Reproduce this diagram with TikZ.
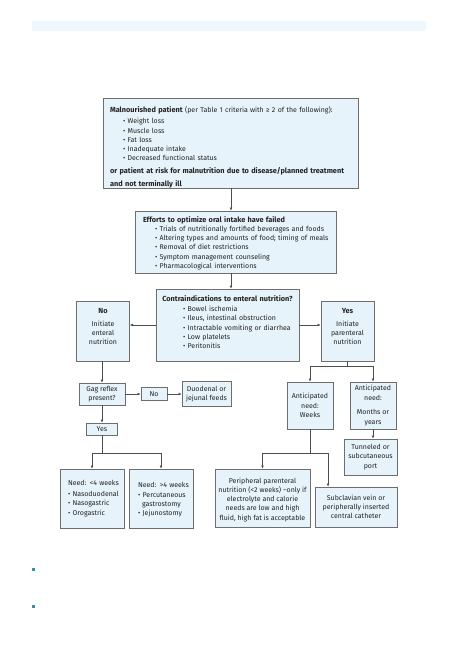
\documentclass[tikz,border=0pt]{standalone}
\usepackage{fontspec}
\setmainfont{Fira Sans}[BoldFeatures={Scale=1.05}]
\usetikzlibrary{arrows.meta}
\definecolor{boxfill}{HTML}{E6F3FA}
\definecolor{boxline}{HTML}{6E6E6E}
\definecolor{lnk}{HTML}{4D4D4D}
\definecolor{stripc}{HTML}{EDF7FD}
\definecolor{mkteal}{HTML}{3A8FA3}
\definecolor{txt}{HTML}{222222}
\begin{document}
\begin{tikzpicture}[x=1pt,y=-1pt,
  box/.style={draw=boxline, fill=boxfill, line width=0.6pt, text=txt,
    font=\fontsize{7}{9.2}\selectfont, inner sep=0pt},
  ln/.style={draw=lnk, line width=0.6pt},
  arr/.style={ln, -{Latex[length=3.2pt,width=2.8pt]}}]
\useasboundingbox (0,0) rectangle (459,650);
\fill[stripc] (32,21) rectangle (426,31);
\fill[mkteal] (32,568) rectangle (35,571);
\fill[mkteal] (32,605) rectangle (35,608);

\node[box, minimum width=255, minimum height=90, text width=241, align=left] (mal) at (230.5,143)
 {\rule{0pt}{14pt}\mbox{\textbf{Malnourished patient} (per Table 1 criteria with ≥ 2 of the following):}\\[2.5pt]
  \mbox{\hspace*{13pt}• Weight loss}\\
  \mbox{\hspace*{13pt}• Muscle loss}\\
  \mbox{\hspace*{13pt}• Fat loss}\\
  \mbox{\hspace*{13pt}• Inadequate intake}\\
  \mbox{\hspace*{13pt}• Decreased functional status}\\[3.5pt]
  \mbox{\textbf{or patient at risk for malnutrition due to disease/planned treatment}}\\[3.5pt]
  \mbox{\textbf{and not terminally ill}}};

\node[box, minimum width=201, minimum height=62, text width=185, align=left] (eff) at (235.5,242)
 {\rule{0pt}{8pt}\mbox{\textbf{Efforts to optimize oral intake have failed}}\\
  \mbox{\hspace*{12pt}• Trials of nutritionally fortified beverages and foods}\\
  \mbox{\hspace*{12pt}• Altering types and amounts of food; timing of meals}\\
  \mbox{\hspace*{12pt}• Removal of diet restrictions}\\
  \mbox{\hspace*{12pt}• Symptom management counseling}\\
  \mbox{\hspace*{12pt}• Pharmacological interventions}};

\node[box, minimum width=143, minimum height=72, text width=137, align=left] (cont) at (227.5,325)
 {\makebox[\linewidth]{\textbf{Contraindications to enteral nutrition?}}\\[1pt]
  \mbox{\hspace*{24pt}• Bowel ischemia}\\
  \mbox{\hspace*{24pt}• Ileus, intestinal obstruction}\\
  \mbox{\hspace*{24pt}• Intractable vomiting or diarrhea}\\
  \mbox{\hspace*{24pt}• Low platelets}\\
  \mbox{\hspace*{24pt}• Peritonitis}\rule[-6pt]{0pt}{6pt}};

\node[box, minimum width=53, minimum height=60, align=center] (no) at (103,331)
 {\textbf{No}\\[4pt]Initiate\\enteral\\nutrition\\\rule{0pt}{8pt}};
\node[box, minimum width=53, minimum height=60, align=center] (yes) at (347.5,331)
 {\textbf{Yes}\\[4pt]Initiate\\parenteral\\nutrition\\\rule{0pt}{8pt}};

\node[box, minimum width=46, minimum height=22, align=center] (gag) at (102,394)
 {Gag reflex\\present?};
\node[box, minimum width=26, minimum height=13, align=center] (gno) at (154,394)
 {No};
\node[box, minimum width=49, minimum height=25, align=center] (duo) at (206.5,394)
 {Duodenal or\\jejunal feeds};
\node[box, minimum width=31, minimum height=12, align=center] (gyes) at (102,429)
 {Yes};

\node[box, minimum width=64, minimum height=59, text width=48, align=left] (n4) at (92,498.5)
 {\mbox{Need: <4 weeks}\\[2pt]
  \mbox{• Nasoduodenal}\\
  \mbox{• Nasogastric}\\
  \mbox{• Orogastric}};
\node[box, minimum width=64, minimum height=59, text width=46, align=left] (n4p) at (161,498.5)
 {\rule{0pt}{8pt}\mbox{Need: >4 weeks}\\
  \mbox{• Percutaneous}\\
  \mbox{\hspace*{4pt}gastrostomy}\\
  \mbox{• Jejunostomy}};

\node[box, minimum width=46, minimum height=47, align=center] (wk) at (310,405.5)
 {Anticipated\\need:\\Weeks};
\node[box, minimum width=46, minimum height=47, align=center] (mo) at (373,405.5)
 {Anticipated\\need:\\[5.5pt]Months or\\years};
\node[box, minimum width=53, minimum height=36, align=center] (tun) at (370.5,457)
 {Tunneled or\\subcutaneous\\port};

\node[box, minimum width=95, minimum height=58, align=center] (ppn) at (262.5,498)
 {\rule{0pt}{9pt}Peripheral parenteral\\nutrition (<2 weeks) –only if\\electrolyte and calorie\\needs are low and high\\fluid, high fat is acceptable};
\node[box, minimum width=82, minimum height=40, align=center] (sub) at (356,507)
 {Subclavian vein or\\peripherally inserted\\central catheter};

% connectors
\coordinate (ex) at (231,0);
\draw[arr] (mal.south -| ex) -- (eff.north -| ex);
\draw[arr] (eff.south -| ex) -- (cont.north -| ex);
\draw[arr] (cont.west) -- (cont.west -| no.east);
\draw[arr] (cont.east) -- (cont.east -| yes.west);
\draw[arr] (no.south -| gag.north) -- (gag.north);
\draw[arr] (gag.east) -- (gno.west);
\draw[arr] (gno.east) -- (duo.west);
\draw[arr] (gag.south) -- (gyes.north);
\coordinate (lb) at (102,453);
\draw[ln] (gyes.south) -- (lb);
\draw[arr] (lb) -| (n4.north);
\draw[arr] (lb) -| (n4p.north);
\coordinate (rb) at (347.5,366);
\draw[ln] (yes.south) -- (rb);
\draw[arr] (rb) -| (wk.north);
\draw[arr] (rb) -| (mo.north);
\draw[arr] (mo.south) -- (mo.south |- tun.north);
\coordinate (wb) at (310,453);
\coordinate (sx) at (328,453);
\draw[ln] (wk.south) -- (wb);
\draw[arr] (wb) -| (ppn.north);
\draw[arr] (wb) -- (sx) -- (sub.north -| sx);
\end{tikzpicture}
\end{document}
